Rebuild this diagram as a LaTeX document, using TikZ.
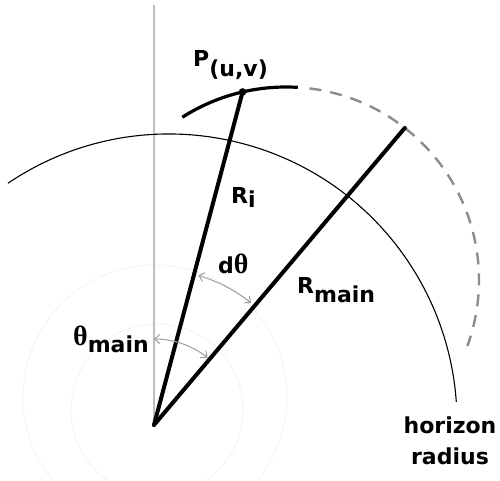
\documentclass[tikz,border=0pt]{standalone}
\usepackage{fontspec}
\setmainfont{DejaVu Sans}
\newfontfamily\thetafont{Liberation Serif}
\usepackage{tikz}
\usetikzlibrary{arrows.meta,calc}
\newcommand{\lowsub}[2][8pt]{\raisebox{-#1}{#2}}
\newcommand{\thetaglyph}{{\thetafont\bfseries\fontsize{28}{28}\selectfont θ}}
\tikzset{
  guide/.style={draw=black!25, line width=1.8pt},
  faint/.style={draw=black!5, line width=0.8pt},
  horizon/.style={draw=black, line width=1.1pt},
  orbit/.style={draw=black, line width=3.2pt},
  orbitdashed/.style={draw=black!45, line width=2.4pt, dash pattern=on 12pt off 9pt},
  ray/.style={draw=black, line width=4pt, line cap=round},
  angarc/.style={draw=black!38, line width=1pt,
                 {Straight Barb[length=5pt,width=9pt]}-{Straight Barb[length=5pt,width=9pt]}},
  lbl/.style={font=\fontsize{22}{31}\selectfont\bfseries, inner sep=0pt},
}
\begin{document}
\begin{tikzpicture}[x=1pt, y=1pt]
  \useasboundingbox (0,0) rectangle (500,480);
  % centres
  \coordinate (O) at (154,55);
  \coordinate (C) at (286,200);
  \coordinate (H) at (169,58);
  \coordinate (Pt) at ($(C)+(103:193)$);
  \coordinate (Mend) at ($(C)+(52:193)$);
  \coordinate (top) at (154,475);
  % faint rings round the origin
  \draw[faint] (155,83) circle[radius=132];
  \draw[faint] (157,70) circle[radius=86];
  % axis and horizon
  \draw[guide] (O) -- (top);
  \draw[horizon] ($(H)+(124:288)$) arc[start angle=124, end angle=4, radius=288];
  % circle through P
  \draw[orbit] ($(C)+(122.5:193)$) arc[start angle=122.5, end angle=86.5, radius=193];
  \draw[orbitdashed] ($(C)+(83:193)$) arc[start angle=83, end angle=-20, radius=193];
  % radii
  \draw[ray] (O) -- (Pt);
  \draw[ray] (O) -- (Mend);
  \fill (Pt) circle[radius=3.8pt];
  % angles
  \draw[angarc] ($(O)+(90:86)$) arc[start angle=90, end angle=51.5, radius=86];
  \draw[angarc] ($(O)+(73.5:156)$) arc[start angle=73.5, end angle=51.5, radius=156];
  % labels
  \node[lbl, anchor=base west] (lp) at (193,413) {P\lowsub[10pt]{(u,v)}};
  \node[lbl, anchor=base west] (lri) at (231,277) {R\lowsub[5pt]{i}};
  \node[lbl, anchor=base west] (ldt) at (218,207) {d\thetaglyph};
  \node[lbl, anchor=base west] (lrm) at (297,187) {R\lowsub[9pt]{main}};
  \node[lbl, anchor=base west] (ltm) at (73,135) {\thetaglyph\lowsub[7pt]{main}};
  \node[lbl, align=center, anchor=north] (lhr) at (450,63) {horizon\\radius};
\end{tikzpicture}
\end{document}
